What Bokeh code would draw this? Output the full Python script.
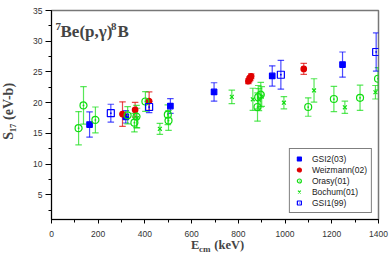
import numpy as np
from bokeh.plotting import figure
from bokeh.models import (ColumnDataSource, Whisker, TeeHead, Label, Range1d,
                          SingleIntervalTicker, Legend, LegendItem)
from bokeh.embed import file_html
from bokeh.resources import INLINE

# ---------------- data ----------------
gsi2_E = [163, 318, 509, 696, 945, 1246]
gsi2_S = [16.45, 17.7, 19.45, 21.75, 24.35, 26.2]
gsi2_err = [2.05, 1.0, 1.2, 1.5, 1.65, 2.05]

weiz_E = [304, 358, 418, 843, 847, 851, 855, 1080]
weiz_S = [18.15, 18.85, 20.25, 23.5, 23.8, 24.0, 24.3, 25.5]
weiz_err = [2.0, 1.2, 1.5, 0.4, 0.4, 0.4, 0.4, 0.9]

orasy_E = [116, 137, 188, 326, 355, 364, 402, 498, 501, 882, 885, 896, 1099, 1209, 1321, 1398]
orasy_S = [15.85, 19.55, 17.2, 17.95, 16.75, 17.75, 20.2, 18.05, 17.1, 19.3, 20.9, 21.3, 19.3, 20.6, 20.8, 23.9]
orasy_err = [2.7, 3.05, 2.1, 1.4, 1.5, 1.8, 1.6, 1.6, 1.6, 2.3, 1.9, 2.0, 1.5, 2.05, 2.05, 1.8]

boch_E = [366, 464, 772, 862, 888, 900, 995, 1124, 1256, 1387]
boch_S = [17.5, 15.75, 20.95, 20.55, 20.5, 21.0, 20.0, 22.0, 19.25, 21.7]
boch_err = [1.6, 0.9, 1.1, 1.8, 1.8, 1.6, 1.0, 1.9, 1.0, 1.1]

gsi1_E = [254, 418, 982, 1390]
gsi1_S = [18.3, 19.3, 24.55, 28.25]
gsi1_err = [1.45, 0.9, 2.35, 3.1]

series_names = ["GSI2(03)", "Weizmann(02)", "Orasy(01)", "Bochum(01)", "GSI1(99)"]

x_ticks_interval = 200
y_ticks_interval = 5

BLUE = "#0000ff"
RED = "#e00000"
GREEN = "#11dd11"

p = figure(width=390, height=277, output_backend="svg", toolbar_location=None,
           x_range=Range1d(0, 1400), y_range=Range1d(1, 35),
           min_border_left=51, min_border_right=12, min_border_top=10, min_border_bottom=38)
p.background_fill_color = "white"
p.border_fill_color = "white"
p.outline_line_color = "#777777"
p.outline_line_width = 1.5
p.xgrid.visible = False
p.ygrid.visible = False

p.xaxis.ticker = SingleIntervalTicker(interval=x_ticks_interval, num_minor_ticks=2)
p.yaxis.ticker = SingleIntervalTicker(interval=y_ticks_interval, num_minor_ticks=2)
for ax in (p.xaxis, p.yaxis):
    ax.axis_line_color = "black"
    ax.major_tick_line_color = "black"
    ax.minor_tick_line_color = "black"
    ax.major_tick_in = 0
    ax.minor_tick_in = 0
    ax.major_label_text_font = "Liberation Sans"
    ax.major_label_text_font_size = "8.5px"
    ax.major_label_text_color = "#333333"
p.xaxis.major_tick_out = 4
p.xaxis.minor_tick_out = 3
p.xaxis.major_label_standoff = 7
p.yaxis.major_tick_out = 6
p.yaxis.minor_tick_out = 3
p.yaxis.major_label_standoff = 3


def add_series(E, S, err, color, marker, size, fill):
    E = np.array(E, dtype=float)
    S = np.array(S, dtype=float)
    err = np.array(err, dtype=float)
    src = ColumnDataSource(dict(x=E, y=S, upper=S + err, lower=S - err))
    w = Whisker(source=src, base="x", upper="upper", lower="lower", dimension="height",
                line_color=color, line_alpha=0.7, line_width=1.2,
                upper_head=TeeHead(size=6.5, line_color=color, line_alpha=0.7, line_width=1.2),
                lower_head=TeeHead(size=6.5, line_color=color, line_alpha=0.7, line_width=1.2))
    p.add_layout(w)
    r = p.scatter("x", "y", source=src, marker=marker, size=size,
                  line_color=color, fill_color=color if fill else None,
                  line_width=1.2)
    return r


r1 = add_series(gsi2_E, gsi2_S, gsi2_err, BLUE, "square", 5.5, True)
r2 = add_series(weiz_E, weiz_S, weiz_err, RED, "circle", 5.5, True)
r3 = add_series(orasy_E, orasy_S, orasy_err, GREEN, "circle_dot", 7, False)
r4 = add_series(boch_E, boch_S, boch_err, GREEN, "x", 5.5, False)
r5 = add_series(gsi1_E, gsi1_S, gsi1_err, BLUE, "square_dot", 7, False)

legend = Legend(items=[LegendItem(label=n, renderers=[r]) for n, r in
                       zip(series_names, [r1, r2, r3, r4, r5])],
                location="bottom_right")
legend.label_text_font = "Liberation Sans"
legend.label_text_font_size = "8.5px"
legend.label_text_color = "#222222"
legend.border_line_color = "black"
legend.border_line_width = 1
legend.background_fill_color = "white"
legend.background_fill_alpha = 1
legend.padding = 4
legend.spacing = 0
legend.margin = 6
legend.glyph_height = 11
legend.glyph_width = 10
legend.label_height = 11
legend.label_standoff = 8
p.add_layout(legend)

SERIF = "Liberation Serif"
# title inside plot: 7Be(p,gamma)8B
p.add_layout(Label(x=17, y=32.34, text="7", text_font=SERIF, text_font_style="bold",
                   text_font_size="11px", text_baseline="alphabetic"))
p.add_layout(Label(x=38.5, y=31.52, text="Be(p,γ)", text_font=SERIF, text_font_style="bold",
                   text_font_size="17px", text_baseline="alphabetic"))
p.add_layout(Label(x=254.7, y=32.34, text="8", text_font=SERIF, text_font_style="bold",
                   text_font_size="11px", text_baseline="alphabetic"))
p.add_layout(Label(x=282.5, y=31.52, text="B", text_font=SERIF, text_font_style="bold",
                   text_font_size="17px", text_baseline="alphabetic"))

# x axis label: E_cm (keV)  (placed in the side panel so it is not clipped by the frame)
p.add_layout(Label(x=597, y=-3.2, text="E", text_font=SERIF, text_font_style="bold",
                   text_font_size="12.5px", text_baseline="alphabetic"), "below")
p.add_layout(Label(x=631, y=-3.75, text="cm", text_font=SERIF, text_font_style="bold",
                   text_font_size="9px", text_baseline="alphabetic"), "below")
p.add_layout(Label(x=697, y=-3.2, text="(keV)", text_font=SERIF, text_font_style="bold",
                   text_font_size="12.5px", text_baseline="alphabetic"), "below")

# y axis label: S_17 (eV-b)
p.add_layout(Label(x=-185, y=18.6, text="S₁₇ (eV-b)", text_font=SERIF, text_font_style="bold",
                   text_font_size="14px", text_baseline="middle", text_align="center",
                   angle=np.pi / 2), "left")

open("out.html", "w").write(file_html(p, INLINE))
